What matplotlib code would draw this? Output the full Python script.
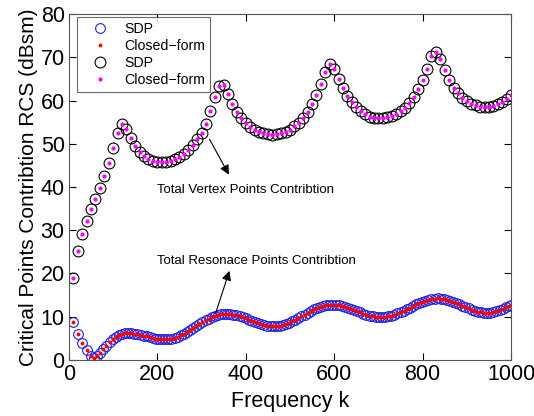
import matplotlib
matplotlib.use("Agg")
import matplotlib.pyplot as plt

plt.rcParams['font.family'] = ['Liberation Sans', 'DejaVu Sans']

# Total vertex points contribution (k = 10..1000, step 10)
k_vertex = list(range(10, 1001, 10))
vertex = [19.0, 25.2, 29.1, 32.1, 35.0, 37.3, 39.8, 42.6, 45.6, 49.0,
          52.6, 54.5, 53.4, 51.4, 49.6, 48.2, 47.2, 46.5, 46.0, 45.8,
          45.7, 45.8, 46.0, 46.4, 47.0, 47.7, 48.6, 49.7, 51.0, 52.5,
          54.6, 57.6, 60.8, 63.4, 63.7, 61.5, 59.2, 57.3, 55.9, 54.8,
          53.9, 53.2, 52.7, 52.4, 52.2, 52.1, 52.2, 52.4, 52.8, 53.3,
          54.0, 54.9, 56.0, 57.4, 59.2, 61.2, 63.8, 66.6, 68.4, 67.4,
          65.0, 62.8, 61.0, 59.6, 58.4, 57.5, 56.8, 56.3, 56.0, 55.9,
          55.9, 56.1, 56.4, 56.9, 57.5, 58.3, 59.4, 60.8, 62.6, 64.8,
          67.4, 70.3, 71.3, 69.6, 67.0, 64.7, 63.0, 61.7, 60.7, 59.9,
          59.3, 58.9, 58.6, 58.5, 58.5, 58.7, 59.1, 59.7, 60.4, 61.3]

# Total resonance points contribution
k_res = [10, 20, 30, 40] + list(range(50, 1000, 7)) + [1000]
resonance = [8.7, 5.9, 3.9, 2.2,
             0.9, 0.5, 0.8, 1.5, 2.4, 3.3, 4.1, 4.8, 5.3, 5.7,
             6.0, 6.15, 6.2, 6.17, 6.09, 5.96, 5.80, 5.61, 5.41, 5.21,
             5.03, 4.88, 4.77, 4.71, 4.71, 4.77, 4.91, 5.12, 5.39, 5.71,
             6.08, 6.49, 6.93, 7.38, 7.84, 8.30, 8.75, 9.16, 9.54, 9.87,
             10.15, 10.36, 10.51, 10.59, 10.59, 10.54, 10.44, 10.28, 10.09, 9.85,
             9.59, 9.32, 9.04, 8.77, 8.51, 8.28, 8.09, 7.94, 7.85, 7.80,
             7.82, 7.90, 8.06, 8.28, 8.55, 8.88, 9.24, 9.64, 10.06, 10.48,
             10.90, 11.30, 11.67, 12.00, 12.29, 12.51, 12.68, 12.77, 12.80, 12.76,
             12.67, 12.52, 12.33, 12.10, 11.84, 11.56, 11.27, 10.98, 10.71, 10.47,
             10.25, 10.09, 9.97, 9.91, 9.91, 9.96, 10.08, 10.25, 10.48, 10.74,
             11.05, 11.39, 11.74, 12.10, 12.46, 12.81, 13.14, 13.44, 13.69, 13.90,
             14.06, 14.16, 14.20, 14.18, 14.09, 13.94, 13.73, 13.48, 13.19, 12.87,
             12.55, 12.22, 11.91, 11.62, 11.37, 11.16, 11.01, 10.92, 10.90, 10.95,
             11.10, 11.32, 11.58, 11.87, 12.17, 12.45, 12.6]

fig = plt.figure(figsize=(5.34, 4.16), dpi=100)
ax = fig.add_axes([0.129, 0.135, 0.828, 0.831])

ax.plot(k_res, resonance, 'o', mfc='none', mec='#2020e0', ms=7, mew=0.8, label='SDP')
ax.plot(k_res, resonance, '.', color='red', ms=3.5, label='Closed\u2212form')
ax.plot(k_vertex, vertex, 'o', mfc='none', mec='black', ms=7.8, mew=0.8, label='SDP')
ax.plot(k_vertex, vertex, '.', color='magenta', ms=4, label='Closed\u2212form')

ax.set_xlim(0, 1000)
ax.set_ylim(0, 80)
ax.set_xticks(range(0, 1001, 200))
ax.set_yticks(range(0, 81, 10))
ax.tick_params(direction='in', top=True, right=True, labelsize=15.5, length=5, pad=3)
for s in ax.spines.values():
    s.set_color('#555555')
ax.set_xlabel('Frequency k', fontsize=15.5, labelpad=4)
ax.set_ylabel('Critical Points Contribtion RCS (dBsm)', fontsize=15, labelpad=2)

ax.annotate('', xy=(365, 42.3), xytext=(315, 51.6),
            arrowprops=dict(arrowstyle='-|>', color='black', lw=0.8, mutation_scale=14))
ax.text(199, 39.3, 'Total Vertex Points Contribtion', fontsize=9.5, va='center')
ax.annotate('', xy=(365, 21.2), xytext=(330, 10.2),
            arrowprops=dict(arrowstyle='-|>', color='black', lw=0.8, mutation_scale=14))
ax.text(199, 22.9, 'Total Resonace Points Contribtion', fontsize=9.5, va='center')

leg = ax.legend(loc='upper left', bbox_to_anchor=(0.018, 0.992), fontsize=10.2,
                fancybox=False, edgecolor='#444444', borderaxespad=0,
                handletextpad=0.4, labelspacing=0.22, handlelength=2.6, borderpad=0.35)
leg.get_frame().set_linewidth(0.8)

fig.savefig('out.png', dpi=100)
